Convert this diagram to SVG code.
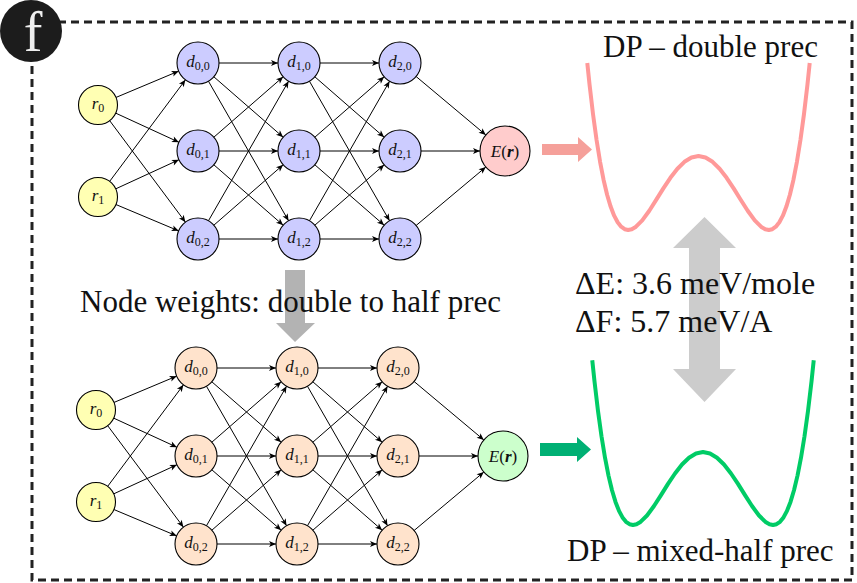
<svg xmlns="http://www.w3.org/2000/svg" xmlns:xlink="http://www.w3.org/1999/xlink" width="857" height="583" viewBox="0 0 857 583">
<style>
.edge{stroke:#000;stroke-width:1;fill:none;marker-end:url(#ah)}
.node{stroke:#000;stroke-width:1.1}
.rin{fill:#ffffb3}
.dtop{fill:#ccccff}
.etop{fill:#ffcccc}
.dbot{fill:#ffe3cc}
.ebot{fill:#ccffcc}
.lbl{font-family:"Liberation Serif","Times New Roman",serif;font-size:17px;text-anchor:middle;fill:#111}
.it{font-style:italic}
.sub{font-size:12px;font-style:normal}
.big{font-family:"Liberation Serif","Times New Roman",serif;font-size:31px;fill:#111}
.big2{font-family:"Liberation Serif","Times New Roman",serif;font-size:32px;fill:#111}
.well{fill:none;stroke-width:4;stroke-linejoin:round;stroke-linecap:butt}
</style>
<defs>
<marker id="ah" markerUnits="userSpaceOnUse" markerWidth="8" markerHeight="6" refX="7" refY="3" orient="auto" overflow="visible"><path d="M0,0 L7,3 L0,6 L1.8,3 Z" fill="#000"/></marker>
<path id="wellShape" vector-effect="non-scaling-stroke" d="M-158.19,225.7 L-155,196.7 L-150,156.25 L-145,121.55 L-140,92.16 L-135,67.65 L-130,47.61 L-125,31.64 L-120,19.36 L-115,10.4 L-110,4.41 L-105,1.05 L-100,0 L-95,0.95 L-90,3.61 L-80,12.96 L-70,26.01 L-60,40.96 L-50,56.25 L-40,70.56 L-30,82.81 L-20,92.16 L-10,98.01 L0,100 L10,98.01 L20,92.16 L30,82.81 L40,70.56 L50,56.25 L60,40.96 L70,26.01 L80,12.96 L90,3.61 L95,0.95 L100,0 L105,1.05 L110,4.41 L115,10.4 L120,19.36 L125,31.64 L130,47.61 L135,67.65 L140,92.16 L145,121.55 L150,156.25 L155,196.7 L158.19,225.7"/>
<g id="edgeSet">
<line x1="115.98" y1="97.45" x2="178.64" y2="71.13"/>
<line x1="115.72" y1="113.15" x2="178.92" y2="142.22"/>
<line x1="109.66" y1="120.63" x2="185.44" y2="222.17"/>
<line x1="109.66" y1="181.37" x2="185.44" y2="79.83"/>
<line x1="115.72" y1="188.85" x2="178.92" y2="159.78"/>
<line x1="115.98" y1="204.55" x2="178.64" y2="230.87"/>
<line x1="219" y1="63" x2="278" y2="63"/>
<line x1="213.83" y1="76.79" x2="283.17" y2="137.21"/>
<line x1="208.45" y1="81.21" x2="288.55" y2="220.79"/>
<line x1="213.83" y1="137.21" x2="283.17" y2="76.79"/>
<line x1="219" y1="151" x2="278" y2="151"/>
<line x1="213.83" y1="164.79" x2="283.17" y2="225.21"/>
<line x1="208.45" y1="220.79" x2="288.55" y2="81.21"/>
<line x1="213.83" y1="225.21" x2="283.17" y2="164.79"/>
<line x1="219" y1="239" x2="278" y2="239"/>
<line x1="320" y1="63" x2="379" y2="63"/>
<line x1="314.83" y1="76.79" x2="384.17" y2="137.21"/>
<line x1="309.45" y1="81.21" x2="389.55" y2="220.79"/>
<line x1="314.83" y1="137.21" x2="384.17" y2="76.79"/>
<line x1="320" y1="151" x2="379" y2="151"/>
<line x1="314.83" y1="164.79" x2="384.17" y2="225.21"/>
<line x1="309.45" y1="220.79" x2="389.55" y2="81.21"/>
<line x1="314.83" y1="225.21" x2="384.17" y2="164.79"/>
<line x1="320" y1="239" x2="379" y2="239"/>
<line x1="416.09" y1="76.49" x2="485.84" y2="134.94"/>
<line x1="421" y1="151" x2="480" y2="151"/>
<line x1="416.09" y1="225.51" x2="485.84" y2="167.06"/>
</g>
</defs>

<rect id="frame" x="32" y="22" width="820" height="558" fill="none" stroke="#222" stroke-width="3" stroke-dasharray="8 5"/>

<g id="badge">
<circle cx="31" cy="31" r="31" fill="#1c1c1c"/>
<text x="33" y="51" font-family="'Liberation Serif','Times New Roman',serif" font-size="56" fill="#eeeeee" text-anchor="middle">f</text>
</g>

<g id="arrow-weights"><polygon points="285,270 305,270 305,323 315,323 295,342 276,323 285,323" fill="#b3b3b3"/></g>
<text id="label-weights" class="big" x="80" y="312">Node weights: double to half prec</text>

<g id="connectors">
<g id="connectors-top" class="edge"><use xlink:href="#edgeSet" href="#edgeSet"/></g>
<g id="connectors-bottom" class="edge" transform="translate(-2,305)"><use xlink:href="#edgeSet" href="#edgeSet"/></g>
</g>

<g id="net-top">
<g id="t-r0"><circle class="node rin" cx="98" cy="105" r="19.5"/><text class="lbl" x="98" y="109"><tspan class="it">r</tspan><tspan class="sub" dy="3">0</tspan></text></g>
<g id="t-r1"><circle class="node rin" cx="98" cy="197" r="19.5"/><text class="lbl" x="98" y="201"><tspan class="it">r</tspan><tspan class="sub" dy="3">1</tspan></text></g>
<g id="t-d00"><circle class="node dtop" cx="198" cy="63" r="21"/><text class="lbl" x="198" y="67"><tspan class="it">d</tspan><tspan class="sub" dy="3">0,0</tspan></text></g>
<g id="t-d01"><circle class="node dtop" cx="198" cy="151" r="21"/><text class="lbl" x="198" y="155"><tspan class="it">d</tspan><tspan class="sub" dy="3">0,1</tspan></text></g>
<g id="t-d02"><circle class="node dtop" cx="198" cy="239" r="21"/><text class="lbl" x="198" y="243"><tspan class="it">d</tspan><tspan class="sub" dy="3">0,2</tspan></text></g>
<g id="t-d10"><circle class="node dtop" cx="299" cy="63" r="21"/><text class="lbl" x="299" y="67"><tspan class="it">d</tspan><tspan class="sub" dy="3">1,0</tspan></text></g>
<g id="t-d11"><circle class="node dtop" cx="299" cy="151" r="21"/><text class="lbl" x="299" y="155"><tspan class="it">d</tspan><tspan class="sub" dy="3">1,1</tspan></text></g>
<g id="t-d12"><circle class="node dtop" cx="299" cy="239" r="21"/><text class="lbl" x="299" y="243"><tspan class="it">d</tspan><tspan class="sub" dy="3">1,2</tspan></text></g>
<g id="t-d20"><circle class="node dtop" cx="400" cy="63" r="21"/><text class="lbl" x="400" y="67"><tspan class="it">d</tspan><tspan class="sub" dy="3">2,0</tspan></text></g>
<g id="t-d21"><circle class="node dtop" cx="400" cy="151" r="21"/><text class="lbl" x="400" y="155"><tspan class="it">d</tspan><tspan class="sub" dy="3">2,1</tspan></text></g>
<g id="t-d22"><circle class="node dtop" cx="400" cy="239" r="21"/><text class="lbl" x="400" y="243"><tspan class="it">d</tspan><tspan class="sub" dy="3">2,2</tspan></text></g>
<g id="t-E"><circle class="node etop" cx="505" cy="151" r="25"/><text class="lbl" x="505" y="157"><tspan class="it">E</tspan>(<tspan class="it" font-weight="bold">r</tspan>)</text></g>
</g>

<g id="net-bottom" transform="translate(-2,305)">
<g id="b-r0"><circle class="node rin" cx="98" cy="105" r="19.5"/><text class="lbl" x="98" y="109"><tspan class="it">r</tspan><tspan class="sub" dy="3">0</tspan></text></g>
<g id="b-r1"><circle class="node rin" cx="98" cy="197" r="19.5"/><text class="lbl" x="98" y="201"><tspan class="it">r</tspan><tspan class="sub" dy="3">1</tspan></text></g>
<g id="b-d00"><circle class="node dbot" cx="198" cy="63" r="21"/><text class="lbl" x="198" y="67"><tspan class="it">d</tspan><tspan class="sub" dy="3">0,0</tspan></text></g>
<g id="b-d01"><circle class="node dbot" cx="198" cy="151" r="21"/><text class="lbl" x="198" y="155"><tspan class="it">d</tspan><tspan class="sub" dy="3">0,1</tspan></text></g>
<g id="b-d02"><circle class="node dbot" cx="198" cy="239" r="21"/><text class="lbl" x="198" y="243"><tspan class="it">d</tspan><tspan class="sub" dy="3">0,2</tspan></text></g>
<g id="b-d10"><circle class="node dbot" cx="299" cy="63" r="21"/><text class="lbl" x="299" y="67"><tspan class="it">d</tspan><tspan class="sub" dy="3">1,0</tspan></text></g>
<g id="b-d11"><circle class="node dbot" cx="299" cy="151" r="21"/><text class="lbl" x="299" y="155"><tspan class="it">d</tspan><tspan class="sub" dy="3">1,1</tspan></text></g>
<g id="b-d12"><circle class="node dbot" cx="299" cy="239" r="21"/><text class="lbl" x="299" y="243"><tspan class="it">d</tspan><tspan class="sub" dy="3">1,2</tspan></text></g>
<g id="b-d20"><circle class="node dbot" cx="400" cy="63" r="21"/><text class="lbl" x="400" y="67"><tspan class="it">d</tspan><tspan class="sub" dy="3">2,0</tspan></text></g>
<g id="b-d21"><circle class="node dbot" cx="400" cy="151" r="21"/><text class="lbl" x="400" y="155"><tspan class="it">d</tspan><tspan class="sub" dy="3">2,1</tspan></text></g>
<g id="b-d22"><circle class="node dbot" cx="400" cy="239" r="21"/><text class="lbl" x="400" y="243"><tspan class="it">d</tspan><tspan class="sub" dy="3">2,2</tspan></text></g>
<g id="b-E"><circle class="node ebot" cx="505" cy="151" r="25"/><text class="lbl" x="505" y="157"><tspan class="it">E</tspan>(<tspan class="it" font-weight="bold">r</tspan>)</text></g>
</g>

<g id="arrow-top-out"><polygon points="542,144 578,144 578,137 592,149.5 578,162 578,155 542,155" fill="#f5a09a"/></g>
<g id="arrow-bottom-out"><polygon points="540,443 577,443 577,437 591,449.5 577,462 577,456 540,456" fill="#00b074"/></g>

<g id="well-top"><use xlink:href="#wellShape" href="#wellShape" class="well" stroke="#ff9999" transform="translate(698.5,230) scale(0.703,-0.74)"/></g>
<g id="well-bottom"><use xlink:href="#wellShape" href="#wellShape" class="well" stroke="#00cc66" transform="translate(703,525) scale(0.70,-0.73)"/></g>

<g id="arrow-compare"><polygon points="704.5,217 736,248 720,248 720,369 736,369 704.5,402 673,369 689,369 689,248 673,248" fill="#cccccc"/></g>

<text id="label-dp" class="big" x="603" y="57">DP – double prec</text>
<text id="label-de" class="big2" x="575" y="294">ΔE: 3.6 meV/mole</text>
<text id="label-df" class="big2" x="575" y="332">ΔF: 5.7 meV/A</text>
<text id="label-mixed" class="big" x="567" y="561">DP – mixed-half prec</text>
</svg>
